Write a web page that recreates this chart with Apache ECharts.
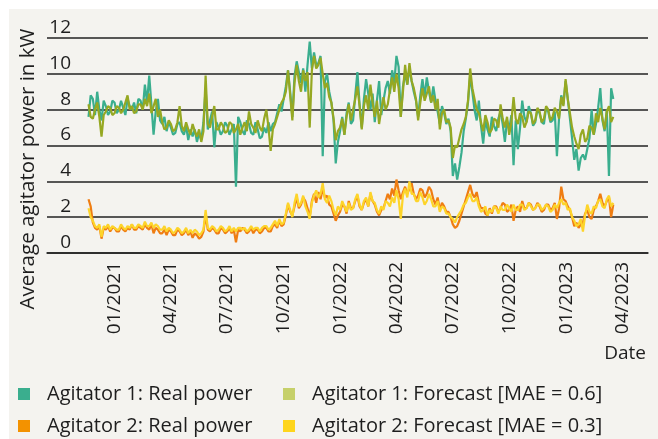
<!DOCTYPE html>
<html>
<head>
<meta charset="utf-8">
<script src="https://cdn.jsdelivr.net/npm/echarts@6/dist/echarts.min.js"></script>
<style>
html,body{margin:0;padding:0;background:#ffffff;width:658px;height:439px;overflow:hidden;}
#bg{position:absolute;left:9px;top:9px;width:649px;height:430px;background:#f4f3ef;}
#c{position:absolute;left:0;top:0;width:658px;height:439px;}
</style>
</head>
<body>
<div id="bg"></div>
<div id="c"></div>
<script>
// ---- data (half-weekly samples) ----
const startDate = [2020, 10, 20];   // 20 Nov 2020 (month index 10)
const stepHours = 84;               // 3.5 days between samples

const tickLabels = ['01/2021','04/2021','07/2021','10/2021','01/2022','04/2022','07/2022','10/2022','01/2023','04/2023'];
const yTicks = [0, 2, 4, 6, 8, 10, 12];

const seriesNames = [
  'Agitator 1: Real power',
  'Agitator 1: Forecast [MAE = 0.6]',
  'Agitator 2: Real power',
  'Agitator 2: Forecast [MAE = 0.3]'
];

const agitator1Real = [
  7.6,8.8,8.6,7.7,9.0,8.0,7.4,8.5,8.2,7.7,7.9,8.5,8.4,7.8,8.0,8.5,8.1,7.7,8.6,8.2,
  8.0,8.4,7.8,8.6,8.5,8.0,9.4,8.4,9.9,8.3,6.6,7.9,8.6,7.4,7.2,7.6,6.8,7.3,7.0,6.6,
  6.7,7.2,7.3,6.8,6.6,7.1,6.3,6.9,6.5,6.9,6.2,6.7,6.3,7.3,9.2,6.9,7.4,7.9,5.9,7.3,
  7.0,6.6,6.8,7.3,7.1,6.6,6.9,7.2,3.7,7.6,7.3,6.8,6.6,7.4,7.2,6.7,6.6,7.3,6.9,6.4,
  6.5,7.0,6.7,7.3,6.8,7.2,7.3,7.8,8.3,7.9,8.6,9.3,10.2,9.0,7.6,9.9,10.7,10.1,9.5,10.3,
  9.0,10.5,11.8,10.3,11.2,10.5,10.6,11.0,5.4,9.6,10.0,9.0,8.4,7.4,5.0,6.2,6.8,7.6,6.6,7.8,
  8.4,7.2,7.4,8.8,10.1,8.3,7.0,8.6,9.7,8.9,8.0,8.9,7.3,8.5,9.6,7.7,8.5,9.2,9.6,8.9,
  10.2,9.5,11.0,10.4,7.6,9.3,10.0,9.4,10.3,9.6,9.0,8.5,7.6,8.8,9.7,8.7,9.8,9.0,8.4,9.3,
  8.5,7.9,7.2,8.2,7.8,7.2,7.5,6.8,4.3,5.0,4.1,4.8,5.6,6.8,7.5,8.4,9.9,9.0,8.0,7.4,
  8.5,7.1,6.1,7.4,6.9,6.5,7.6,7.1,6.8,7.5,7.9,7.2,6.2,7.4,6.9,7.7,4.9,7.4,5.8,7.0,
  8.5,7.6,7.3,8.2,7.8,7.1,7.3,8.0,7.8,7.3,7.2,8.1,7.9,7.3,7.4,7.9,5.4,7.6,8.8,8.3,
  9.6,8.6,7.5,6.4,5.2,5.8,4.6,5.3,5.5,5.2,5.8,6.4,8.0,6.6,7.2,8.1,9.2,7.4,6.8,8.0,
  4.3,9.2,8.6
];

const agitator1Forecast = [
  8.3,7.6,7.5,8.0,8.4,7.6,6.5,7.7,7.9,8.2,8.1,7.7,7.8,8.2,8.1,7.8,8.0,8.4,8.8,8.0,
  8.2,7.8,7.9,8.3,8.3,8.0,8.6,8.2,8.9,7.8,8.2,8.6,7.6,8.0,7.3,6.9,7.0,7.4,7.2,6.8,
  6.9,7.3,8.2,7.1,6.8,7.3,6.9,6.6,7.2,6.8,6.5,6.9,6.2,6.8,9.9,7.2,7.0,7.6,8.2,6.9,
  6.9,7.3,7.1,6.7,6.8,7.3,7.2,6.7,6.9,7.2,6.6,7.0,7.3,6.8,7.9,7.2,7.0,6.7,7.4,7.0,
  6.8,7.5,8.0,7.0,5.7,6.9,7.2,7.6,8.0,8.4,8.6,9.0,10.2,8.8,7.4,9.5,10.5,9.6,9.0,10.2,
  9.6,10.1,7.0,10.2,11.0,10.3,10.5,10.9,10.0,9.2,9.5,8.7,8.4,7.5,6.3,6.8,7.0,7.5,6.6,7.6,
  8.3,7.4,8.0,8.6,9.3,8.2,6.9,8.2,8.8,8.0,9.4,8.4,7.6,8.5,7.2,8.0,8.7,8.0,8.3,9.1,
  9.8,9.0,10.0,9.2,7.6,9.0,10.5,9.4,10.6,9.6,9.2,8.6,7.4,8.4,9.2,8.5,8.9,9.3,8.4,8.8,
  8.0,8.6,6.9,7.8,8.0,7.3,7.4,7.0,5.3,6.0,5.9,6.4,6.9,7.2,7.6,8.5,10.3,9.2,8.6,8.0,
  7.8,7.3,6.8,7.7,7.3,6.7,6.9,7.5,7.4,7.0,8.3,7.5,7.0,7.6,6.6,7.3,8.7,7.5,7.2,7.8,
  7.6,7.0,7.3,7.9,7.8,7.2,7.4,8.1,7.9,7.3,7.5,8.2,8.0,7.4,7.6,8.1,7.9,7.5,8.7,8.2,
  9.7,8.6,7.8,7.0,6.5,6.1,5.8,6.6,6.9,6.2,6.4,7.1,7.0,6.6,7.8,7.3,8.1,7.5,6.9,7.9,
  8.2,7.3,7.6
];

const agitator2Real = [
  3.0,2.6,1.7,1.4,1.3,1.5,0.8,1.4,1.3,1.5,1.2,1.4,1.4,1.2,1.2,1.5,1.3,1.2,1.4,1.3,
  1.6,1.3,1.3,1.5,1.4,1.3,1.6,1.4,1.3,1.6,1.1,1.4,1.3,1.1,1.1,1.3,1.0,1.3,1.2,1.0,
  1.0,1.3,1.2,1.0,1.1,1.3,1.0,1.2,0.85,1.1,1.0,0.8,0.9,1.2,2.1,1.3,1.2,1.4,1.3,1.1,
  1.1,1.4,1.3,1.1,1.2,1.4,1.1,1.3,0.6,1.3,1.2,1.4,1.3,1.1,1.2,1.4,1.1,1.3,1.3,1.1,
  1.2,1.4,1.4,1.2,1.2,1.5,1.6,1.4,1.8,1.5,1.6,2.1,2.7,2.3,2.1,2.6,3.1,2.5,2.7,3.1,
  2.9,2.5,2.0,2.9,3.3,2.8,3.4,3.0,3.6,3.1,3.2,2.7,2.6,2.2,1.8,2.1,2.3,2.7,2.6,2.2,
  2.9,2.5,2.5,2.9,3.2,2.6,2.4,2.8,3.0,2.6,3.3,2.9,2.7,2.3,2.1,2.4,2.5,2.9,3.3,3.0,
  3.6,3.2,4.1,3.5,3.0,3.4,3.7,3.3,3.6,3.9,3.3,3.0,3.2,3.6,3.5,3.1,3.3,3.7,3.5,3.0,
  2.7,3.1,2.4,2.8,2.6,2.3,2.3,2.0,1.6,1.4,1.5,1.8,2.2,2.6,3.0,3.4,3.8,3.3,3.1,3.4,
  2.8,2.5,2.5,2.2,2.1,2.5,2.2,2.6,2.6,2.3,2.5,2.8,2.7,2.3,2.4,2.7,1.8,2.4,2.6,2.3,
  2.9,2.5,2.5,2.8,2.7,2.4,2.5,2.8,2.6,2.3,2.4,2.7,2.7,2.4,2.5,2.8,1.9,2.5,3.7,3.0,
  2.9,2.6,2.4,2.0,1.5,1.7,1.4,1.6,1.7,2.2,2.4,2.0,1.9,2.4,2.6,2.9,3.3,2.8,2.6,2.9,
  3.1,2.0,2.7
];

const agitator2Forecast = [
  2.5,2.0,1.8,1.5,1.4,1.6,0.9,1.5,1.4,1.6,1.3,1.5,1.4,1.3,1.3,1.6,1.4,1.3,1.5,1.4,
  1.6,1.4,1.4,1.6,1.5,1.4,1.75,1.5,1.5,1.7,1.4,1.6,1.5,1.3,1.3,1.5,1.2,1.4,1.3,1.1,
  1.2,1.4,1.3,1.1,1.2,1.4,1.1,1.3,1.1,1.3,1.2,1.0,1.1,1.3,2.4,1.4,1.3,1.5,1.4,1.2,
  1.3,1.5,1.4,1.2,1.3,1.5,1.2,1.4,1.2,1.4,1.4,1.3,1.4,1.2,1.3,1.5,1.3,1.4,1.4,1.2,
  1.4,1.5,1.5,1.3,1.4,1.6,1.8,1.5,1.9,1.6,1.7,2.2,2.8,2.4,2.0,2.8,3.3,2.6,2.8,3.2,
  2.6,2.3,1.9,2.8,3.2,3.5,3.1,3.3,3.9,3.0,2.8,3.2,2.9,2.4,2.1,2.6,2.4,2.9,2.6,2.3,
  2.8,2.4,2.5,3.0,3.3,2.7,2.4,2.9,3.1,2.6,3.4,2.9,2.8,2.4,2.2,2.6,2.4,2.9,2.8,2.6,
  3.1,2.8,3.5,3.0,1.9,3.2,3.6,3.1,4.0,3.3,3.3,2.9,2.9,3.4,3.1,2.7,2.9,3.3,3.0,2.6,
  2.6,2.9,2.3,2.6,2.5,2.2,2.2,2.0,1.9,1.7,2.0,2.2,2.4,2.7,2.8,3.1,3.3,2.9,2.9,3.1,
  2.6,2.3,2.4,2.6,2.1,2.4,2.3,2.6,2.5,2.2,2.6,2.4,2.4,2.7,2.5,2.3,2.7,2.4,2.4,2.7,
  2.7,2.4,2.5,2.8,2.6,2.4,2.5,2.7,2.7,2.4,2.5,2.7,2.6,2.3,2.4,2.7,2.5,2.8,3.0,2.7,
  2.8,2.4,2.5,2.0,1.8,1.5,1.6,1.9,1.2,2.1,2.7,2.3,2.2,2.6,2.5,2.9,3.0,2.6,2.5,3.0,
  3.2,2.6,2.8
];

const lineColors = ['#3aae8e', '#96a822', '#ef7d12', '#fdd42a'];
const legendColors = ['#3aae8e', '#c6d06a', '#f39200', '#fed51c'];

// ---- build ----
const hourMs = 3600000;
const t0 = Date.UTC(startDate[0], startDate[1], startDate[2]);
function withDates(values) {
  return values.map((v, i) => [t0 + i * stepHours * hourMs, v]);
}
const tickValues = tickLabels.map(s => {
  const p = s.split('/');
  return Date.UTC(+p[1], +p[0] - 1, 1);
});
const labelByValue = {};
tickValues.forEach((v, i) => { labelByValue[v] = tickLabels[i]; });

const FONT = 'Open Sans';
const TXT = '#1e1e1e';
const allValues = [agitator1Real, agitator1Forecast, agitator2Real, agitator2Forecast];

function legendBlock(left, idxA, idxB) {
  return {
    left: left, top: 384, orient: 'vertical', itemGap: 12, padding: 0,
    itemWidth: 12, itemHeight: 12, icon: 'rect',
    textStyle: {fontFamily: FONT, fontSize: 20, color: TXT, padding: [0, 0, 0, 12], lineHeight: 20},
    data: [
      {name: seriesNames[idxA], itemStyle: {color: legendColors[idxA]}},
      {name: seriesNames[idxB], itemStyle: {color: legendColors[idxB]}}
    ]
  };
}

const chart = echarts.init(document.getElementById('c'), null, {renderer: 'canvas'});
chart.setOption({
  animation: false,
  backgroundColor: 'transparent',
  textStyle: {fontFamily: FONT},
  grid: {left: 47, right: 10, top: 38, bottom: 186, containLabel: false},
  xAxis: {
    type: 'value',
    min: Date.UTC(2020, 8, 14),
    max: Date.UTC(2023, 4, 12),
    name: 'Date',
    nameLocation: 'end',
    nameGap: -2,
    nameTextStyle: {fontFamily: FONT, fontSize: 19, color: TXT, align: 'right', verticalAlign: 'top', padding: [91, 0, 0, 0]},
    axisLine: {show: true, onZero: false, lineStyle: {color: '#222', width: 1.5}},
    axisTick: {show: false},
    splitLine: {show: false},
    axisLabel: {
      customValues: tickValues,
      rotate: 90,
      margin: 9,
      fontFamily: FONT,
      fontSize: 19,
      color: TXT,
      formatter: v => labelByValue[v] || ''
    }
  },
  yAxis: {
    type: 'value',
    min: yTicks[0],
    max: yTicks[yTicks.length - 1],
    interval: 2,
    axisLine: {show: false},
    axisTick: {show: false},
    splitLine: {show: true, lineStyle: {color: '#222', width: 1.5}},
    axisLabel: {
      margin: -24,
      fontFamily: FONT,
      fontSize: 19,
      color: TXT,
      verticalAlign: 'bottom',
      padding: [0, 0, 1, 0]
    }
  },
  legend: [legendBlock(18, 0, 2), legendBlock(283, 1, 3)],
  graphic: [{
    type: 'text',
    x: 28, y: 169,
    rotation: Math.PI / 2,
    style: {
      text: 'Average agitator power in kW',
      fontFamily: FONT, fontSize: 20.5, fill: TXT,
      align: 'center', verticalAlign: 'middle'
    }
  }],
  series: allValues.map((vals, k) => ({
    name: seriesNames[k],
    type: 'line',
    data: withDates(vals),
    showSymbol: false,
    symbol: 'none',
    lineStyle: {color: lineColors[k], width: 2.2},
    itemStyle: {color: lineColors[k]},
    z: 2 + k
  }))
});
</script>
</body>
</html>
